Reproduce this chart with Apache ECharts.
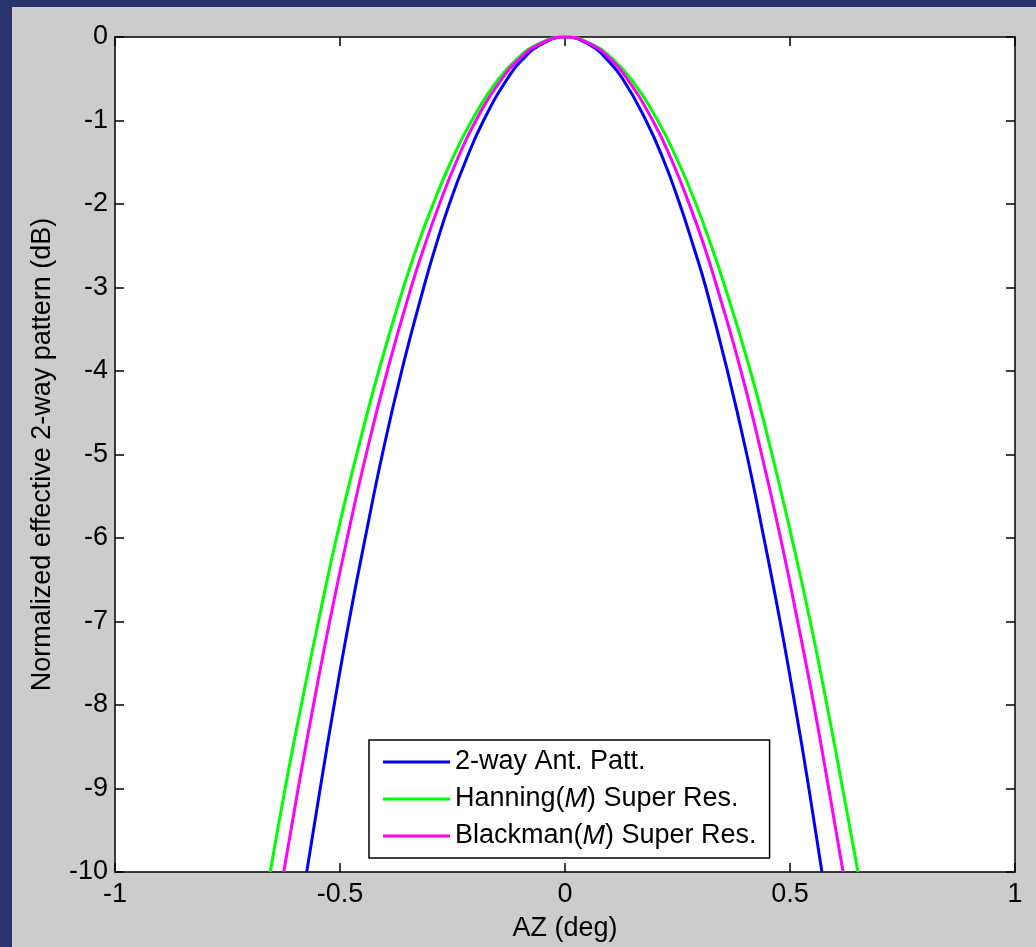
<!DOCTYPE html>
<html>
<head>
<meta charset="utf-8">
<script src="https://cdn.jsdelivr.net/npm/echarts@6/dist/echarts.min.js"></script>
<style>html,body{margin:0;padding:0;background:#2b336c;}#c{width:1036px;height:947px;}</style>
</head>
<body>
<div id="c"></div>
<script>
// dB levels at which the curves' AZ positions were read
const dbLevels = [0, -0.1, -0.25, -0.5, -1, -1.5, -2, -2.5, -3, -4, -5, -6, -7, -8, -9, -10];
// AZ (deg) offsets from 0 on the left (negative side) and right, per series
const antLeft   = [0, 0.057, 0.091, 0.128, 0.181, 0.222, 0.257, 0.287, 0.314, 0.363, 0.406, 0.444, 0.480, 0.513, 0.544, 0.574];
const antRight  = [0, 0.057, 0.090, 0.128, 0.180, 0.221, 0.255, 0.285, 0.313, 0.361, 0.404, 0.442, 0.478, 0.511, 0.542, 0.571];
const hanLeft   = [0, 0.066, 0.104, 0.147, 0.207, 0.254, 0.293, 0.328, 0.359, 0.414, 0.463, 0.508, 0.548, 0.586, 0.622, 0.655];
const hanRight  = [0, 0.065, 0.103, 0.146, 0.206, 0.252, 0.291, 0.325, 0.356, 0.412, 0.460, 0.504, 0.545, 0.582, 0.617, 0.651];
const blkLeft   = [0, 0.062, 0.099, 0.140, 0.198, 0.242, 0.279, 0.312, 0.342, 0.395, 0.442, 0.484, 0.523, 0.559, 0.593, 0.625];
const blkRight  = [0, 0.062, 0.098, 0.138, 0.195, 0.239, 0.276, 0.309, 0.338, 0.391, 0.437, 0.479, 0.517, 0.553, 0.586, 0.618];
const seriesNames = ['2-way Ant. Patt.', 'Hanning(M) Super Res.', 'Blackman(M) Super Res.'];
const xTicks = [-1, -0.5, 0, 0.5, 1];
const yTicks = [0, -1, -2, -3, -4, -5, -6, -7, -8, -9, -10];

function build(left, right) {
  const pts = [];
  for (let i = left.length - 1; i >= 1; i--) pts.push([-left[i], dbLevels[i]]);
  pts.push([0, 0]);
  for (let i = 1; i < right.length; i++) pts.push([right[i], dbLevels[i]]);
  return pts;
}

const FONT = 'Liberation Sans, Arial, sans-serif';
const FS = 27;
const chart = echarts.init(document.getElementById('c'), null, {renderer: 'canvas'});
const axisCommon = {
  axisLine: {show: true, onZero: false, lineStyle: {color: '#000', width: 1.5}},
  axisTick: {show: true, inside: true, length: 9, lineStyle: {color: '#000', width: 1.5}},
  splitLine: {show: false}
};
const legendFmt = function (n) {
  return n.replace('(M)', '({i|M})');
};
chart.setOption({
  backgroundColor: '#2b336c',
  animation: false,
  graphic: [{type: 'rect', z: -10, shape: {x: 12, y: 7, width: 1024, height: 940}, style: {fill: '#cccccc'}}],
  grid: {left: 115, right: 21, top: 37, bottom: 73, show: true, backgroundColor: '#ffffff', borderWidth: 0},
  xAxis: [
    Object.assign({type: 'value', min: -1, max: 1, interval: 0.5, position: 'bottom',
      name: 'AZ (deg)', nameLocation: 'middle', nameGap: 43,
      nameTextStyle: {color: '#000', fontSize: FS, fontFamily: FONT},
      axisLabel: {color: '#000', fontSize: FS, fontFamily: FONT, margin: 9,
        formatter: v => String(v)}}, axisCommon),
    Object.assign({type: 'value', min: -1, max: 1, interval: 0.5, position: 'top',
      axisLabel: {show: false}}, axisCommon)
  ],
  yAxis: [
    Object.assign({type: 'value', min: -10, max: 0, interval: 1, position: 'left',
      name: 'Normalized effective 2-way pattern (dB)', nameLocation: 'middle', nameGap: 59,
      nameTextStyle: {color: '#000', fontSize: FS, fontFamily: FONT},
      axisLabel: {color: '#000', fontSize: FS, fontFamily: FONT, margin: 7}}, axisCommon),
    Object.assign({type: 'value', min: -10, max: 0, interval: 1, position: 'right',
      axisLabel: {show: false}}, axisCommon)
  ],
  legend: {
    orient: 'vertical', left: 369, top: 740,
    backgroundColor: '#ffffff', borderColor: '#000', borderWidth: 1.5,
    padding: [8, 13, 8, 14], itemGap: 9,
    icon: 'rect', itemWidth: 67, itemHeight: 3,
    formatter: legendFmt,
    textStyle: {color: '#000', fontSize: FS, fontFamily: FONT, lineHeight: 28,
      rich: {i: {fontStyle: 'italic', fontSize: FS, fontFamily: FONT, color: '#000', lineHeight: 28}}},
    data: seriesNames
  },
  series: [
    {name: seriesNames[0], type: 'line', data: build(antLeft, antRight), smooth: true, showSymbol: false,
      color: '#0000ff', lineStyle: {color: '#0000ff', width: 3}},
    {name: seriesNames[1], type: 'line', data: build(hanLeft, hanRight), smooth: true, showSymbol: false,
      color: '#00ff00', lineStyle: {color: '#00ff00', width: 3}},
    {name: seriesNames[2], type: 'line', data: build(blkLeft, blkRight), smooth: true, showSymbol: false,
      color: '#ff00ff', lineStyle: {color: '#ff00ff', width: 3}}
  ]
});
</script>
</body>
</html>
